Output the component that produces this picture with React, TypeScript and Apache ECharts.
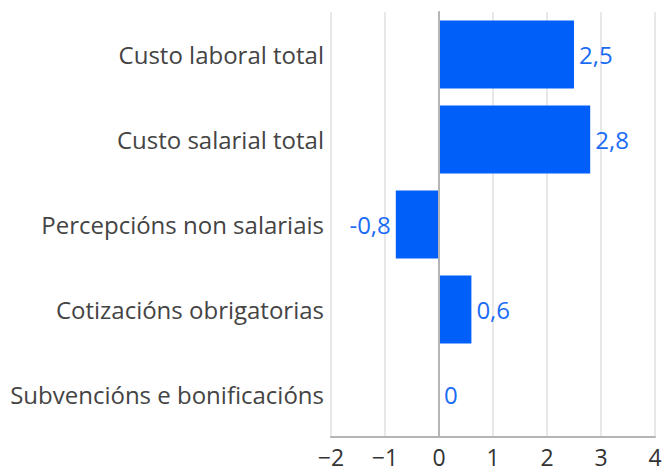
import React, { useEffect, useRef } from "react";
import * as echarts from "echarts";

const categories = [
  "Custo laboral total",
  "Custo salarial total",
  "Percepcións non salariais",
  "Cotizacións obrigatorias",
  "Subvencións e bonificacións",
];
const values = [2.5, 2.8, -0.8, 0.6, 0];
const xTicks = [-2, -1, 0, 1, 2, 3, 4];

export default function App() {
  const ref = useRef<HTMLDivElement>(null);
  useEffect(() => {
    const chart = echarts.init(ref.current!, null, { renderer: "svg" });
    const font = "'Open Sans', sans-serif";
    chart.setOption({
      animation: false,
      grid: { left: 331, right: 10, top: 12, bottom: 32, containLabel: false },
      xAxis: {
        type: "value",
        min: xTicks[0],
        max: xTicks[xTicks.length - 1],
        interval: 1,
        axisLine: { show: true, onZero: false, lineStyle: { color: "#b5b5b5", width: 2 } },
        axisTick: { show: false },
        splitLine: { show: true, lineStyle: { color: "#e8e8e8", width: 2 } },
        axisLabel: {
          color: "#333",
          fontSize: 23,
          fontFamily: font,
          margin: 8,
          formatter: (v: number) => (v < 0 ? "\u2212" + Math.abs(v) : String(v)),
        },
      },
      yAxis: {
        type: "category",
        data: categories,
        inverse: true,
        axisLine: { show: true, lineStyle: { color: "#b5b5b5", width: 2 } },
        axisTick: { show: false },
        axisLabel: { color: "#444", fontSize: 24, fontFamily: font, margin: 7 },
      },
      series: [
        {
          type: "bar",
          data: values.map((v) => ({
            value: v,
            label: { position: v < 0 ? "left" : "right" },
          })),
          barCategoryGap: "20%",
          itemStyle: { color: "#005ff9" },
          label: {
            show: true,
            color: "#1a6cf5",
            fontSize: 24,
            fontFamily: font,
            distance: 5,
            formatter: (p: any) => String(p.value).replace(".", ","),
          },
          markLine: {
            silent: true,
            symbol: "none",
            label: { show: false },
            lineStyle: { color: "#b5b5b5", width: 2, type: "solid" },
            data: [{ xAxis: 0 }],
          },
        },
      ],
    });
    return () => chart.dispose();
  }, []);
  return <div ref={ref} style={{ width: 665, height: 469, position: "absolute", left: 0, top: 0 }} />;
}
